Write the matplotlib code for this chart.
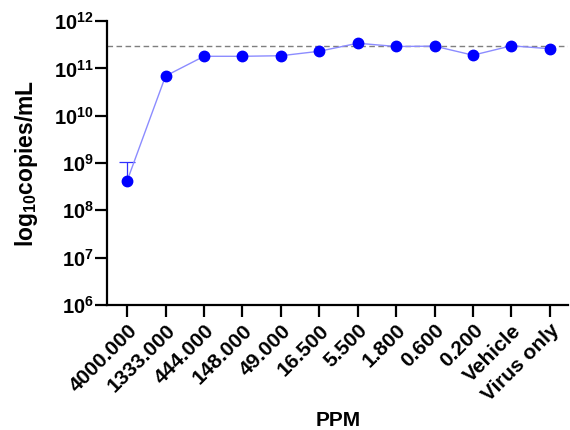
import math
import matplotlib
matplotlib.use('Agg')
import matplotlib.pyplot as plt
import matplotlib.transforms as mtransforms
from matplotlib.ticker import FixedLocator, NullLocator, FuncFormatter

plt.rcParams['font.family'] = ['Liberation Sans', 'DejaVu Sans']
plt.rcParams['mathtext.fontset'] = 'custom'
plt.rcParams['mathtext.rm'] = 'Liberation Sans:bold'
plt.rcParams['mathtext.bf'] = 'Liberation Sans:bold'
plt.rcParams['mathtext.it'] = 'Liberation Sans:bold'

# data
ppm_labels = ['4000.000', '1333.000', '444.000', '148.000', '49.000', '16.500',
              '5.500', '1.800', '0.600', '0.200', 'Vehicle', 'Virus only']
copies = [4.2e8, 6.9e10, 1.8e11, 1.8e11, 1.85e11, 2.3e11,
          3.4e11, 2.9e11, 2.95e11, 1.9e11, 3.0e11, 2.6e11]
upper = [1.07e9, None, None, None, None, None, None, None, None, None, None, None]
ref_level = 3.0e11

x = list(range(len(ppm_labels)))
ex = [i for i, u in zip(x, upper) if u is not None]
ey = [c for c, u in zip(copies, upper) if u is not None]
eu = [u for u in upper if u is not None]

fig = plt.figure(figsize=(5.7, 4.3), dpi=100)
ax = fig.add_axes([0.188, 0.291, 0.809, 0.660])

ax.axhline(ref_level, color='#7f7f7f', ls=(0, (4, 2.5)), lw=1, zorder=1)
# upper error bar only
ax.vlines(ex, ey, eu, color='#3030ff', lw=0.9, zorder=2)
ax.plot(ex, eu, '_', color='#3030ff', ms=12, mew=0.9, zorder=2)
ax.plot(x, copies, color='#8c8cff', lw=1, zorder=2)
ax.plot(x, copies, 'o', color='#0000ff', ms=7.5, zorder=3)

ax.set_yscale('log')
ax.set_ylim(1e6, 1e12)
ax.set_xlim(-0.52, 11.48)
ax.yaxis.set_major_locator(FixedLocator([10.0 ** k for k in range(6, 13)]))
ax.yaxis.set_minor_locator(NullLocator())
ax.yaxis.set_major_formatter(FuncFormatter(lambda v, p: r'$10^{%d}$' % round(math.log10(v))))

ax.set_xticks(x)
ax.set_xticklabels(ppm_labels, rotation=45, ha='right', rotation_mode='anchor',
                   fontsize=15, fontweight='bold')
shift = mtransforms.ScaledTranslation(3 / 72, -2 / 72, fig.dpi_scale_trans)
for t in ax.get_xticklabels():
    t.set_transform(t.get_transform() + shift)
for t in ax.get_yticklabels():
    t.set_fontsize(14.5)

ax.spines['top'].set_visible(False)
ax.spines['right'].set_visible(False)
ax.spines['left'].set_linewidth(1.6)
ax.spines['bottom'].set_linewidth(1.6)
ax.tick_params(axis='both', width=1.6, length=8.5, direction='out')
ax.tick_params(axis='x', pad=3)
ax.tick_params(axis='y', pad=1)

ax.set_ylabel(r'$log_{10}copies/mL$', fontsize=16.5, labelpad=10)
ax.set_xlabel('PPM', fontsize=15, fontweight='bold', labelpad=4)

fig.savefig('out.png', dpi=100)
